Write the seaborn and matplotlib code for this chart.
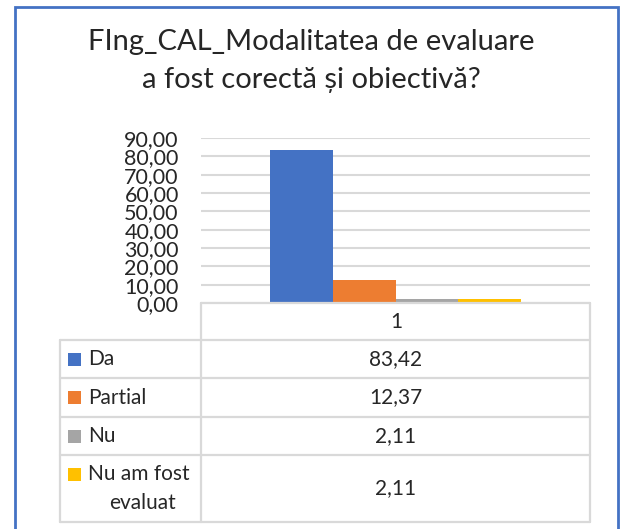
import pandas as pd
import matplotlib
matplotlib.use("Agg")
import matplotlib.pyplot as plt
import seaborn as sns
from matplotlib.lines import Line2D
from matplotlib.patches import Rectangle

# data
series = ["Da", "Partial", "Nu", "Nu am fost\nevaluat"]
values = [83.42, 12.37, 2.11, 2.11]
colors = ["#4472C4", "#ED7D31", "#A5A5A5", "#FFC000"]
category = "1"
yticks = [0, 10, 20, 30, 40, 50, 60, 70, 80, 90]
title = "FIng_CAL_Modalitatea de evaluare\na fost corectă și obiectivă?"

sns.set_style("white")
plt.rcParams["font.family"] = ["Lato", "DejaVu Sans"]

W, H = 621, 529
fig = plt.figure(figsize=(W / 100, H / 100), dpi=100)


def fx(px):
    return px / W


def fy(py):
    return 1 - py / H


# plot area: x 201..590, y value 90 at 138 px, 0 at 303 px
ax = fig.add_axes([fx(201), fy(303), fx(590) - fx(201), fy(138) - fy(303)])

df = pd.DataFrame({"cat": [category] * len(series), "serie": series, "val": values})
sns.barplot(data=df, x="cat", y="val", hue="serie", palette=colors, width=0.645,
            saturation=1, linewidth=0, legend=False, ax=ax)

ax.set_ylim(0, 90)
ax.set_yticks(yticks)
ax.set_yticklabels([f"{v:.2f}".replace(".", ",") for v in yticks], fontsize=15.5)
ax.tick_params(axis="y", length=0, pad=16)
ax.set_xticks([])
ax.set_xlabel("")
ax.set_ylabel("")
ax.yaxis.grid(True, color="#D9D9D9", linewidth=1.5)
ax.set_axisbelow(True)
for s in ax.spines.values():
    s.set_visible(False)

# title
fig.text(fx(311), fy(61), title, ha="center", va="center", fontsize=21,
         linespacing=1.6)

# data table
grid_c = "#D9D9D9"
lw = 1.6
rows_y = [303, 340, 378, 417, 455, 522]


def hline(x0, x1, y):
    fig.add_artist(Line2D([fx(x0), fx(x1)], [fy(y), fy(y)], color=grid_c, lw=lw))


def vline(x, y0, y1):
    fig.add_artist(Line2D([fx(x), fx(x)], [fy(y0), fy(y1)], color=grid_c, lw=lw))


hline(201, 590, 303)
for y in rows_y[1:]:
    hline(60, 590, y)
vline(201, 303, 522)
vline(590, 303, 522)
vline(60, 340, 522)

fig.text(fx(396), fy((303 + 340) / 2), category, ha="center", va="center", fontsize=15)
for i, (name, v, c) in enumerate(zip(series, values, colors)):
    y0, y1 = rows_y[i + 1], rows_y[i + 2]
    ym = (y0 + y1) / 2
    fig.text(fx(396), fy(ym), f"{v:.2f}".replace(".", ","), ha="center", va="center",
             fontsize=15)
    if "\n" in name:
        key_y = y0 + 19
        fig.text(fx(88), fy(key_y), name.split("\n")[0], ha="left", va="center",
                 fontsize=15)
        fig.text(fx(176), fy(key_y + 29), name.split("\n")[1], ha="right",
                 va="center", fontsize=15)
    else:
        key_y = ym
        fig.text(fx(88), fy(key_y), name, ha="left", va="center", fontsize=15)
    fig.add_artist(Rectangle((fx(68), fy(key_y + 6.5)), fx(13), 13 / H,
                             facecolor=c, edgecolor="none"))

# outer chart border
fig.add_artist(Rectangle((fx(15), fy(540)), fx(603), 533 / H, fill=False,
                         edgecolor="#4472C4", lw=2))

fig.savefig("out.png", dpi=100)
